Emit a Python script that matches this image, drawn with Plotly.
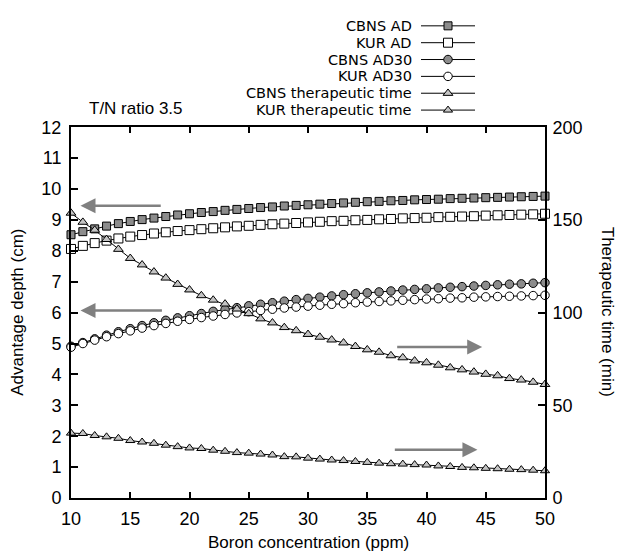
import plotly.graph_objects as go

# ---------------- data ----------------
boron_ppm = list(range(10, 51))

cbns_ad = [8.52, 8.62, 8.71, 8.80, 8.88, 8.95, 9.01, 9.06, 9.11, 9.16,
           9.20, 9.24, 9.27, 9.31, 9.34, 9.37, 9.40, 9.42, 9.45, 9.47,
           9.49, 9.51, 9.53, 9.55, 9.57, 9.59, 9.60, 9.62, 9.63, 9.65,
           9.66, 9.67, 9.69, 9.70, 9.71, 9.72, 9.73, 9.74, 9.75, 9.76, 9.77]
kur_ad = [8.06, 8.16, 8.25, 8.33, 8.40, 8.46, 8.51, 8.56, 8.60, 8.64,
          8.67, 8.70, 8.73, 8.76, 8.79, 8.81, 8.84, 8.86, 8.88, 8.90,
          8.92, 8.94, 8.96, 8.97, 8.99, 9.00, 9.02, 9.03, 9.05, 9.06,
          9.07, 9.09, 9.10, 9.11, 9.12, 9.14, 9.15, 9.16, 9.17, 9.18, 9.20]
cbns_ad30 = [4.91, 5.03, 5.15, 5.27, 5.38, 5.48, 5.58, 5.67, 5.75, 5.83,
             5.90, 5.97, 6.04, 6.10, 6.16, 6.22, 6.27, 6.32, 6.37, 6.42,
             6.46, 6.50, 6.54, 6.58, 6.61, 6.64, 6.67, 6.70, 6.73, 6.75,
             6.77, 6.80, 6.82, 6.84, 6.86, 6.88, 6.90, 6.92, 6.93, 6.95, 6.97]
kur_ad30 = [4.88, 5.00, 5.11, 5.22, 5.32, 5.41, 5.50, 5.58, 5.65, 5.72,
            5.78, 5.84, 5.89, 5.94, 5.99, 6.03, 6.07, 6.11, 6.15, 6.18,
            6.21, 6.24, 6.27, 6.29, 6.32, 6.34, 6.36, 6.38, 6.40, 6.42,
            6.44, 6.45, 6.47, 6.48, 6.50, 6.51, 6.52, 6.53, 6.54, 6.55, 6.56]
cbns_time = [153.7, 148.8, 144.5, 139.5, 134.2, 129.3, 125.8, 122.0, 118.7, 115.3,
             112.3, 109.2, 106.8, 104.7, 102.0, 99.5, 96.7, 94.5, 92.0, 90.3,
             88.3, 86.8, 85.3, 83.7, 81.8, 80.0, 78.7, 76.8, 75.7, 74.0,
             73.0, 71.7, 70.3, 69.2, 68.0, 66.8, 66.0, 64.5, 63.7, 62.5, 61.3]
kur_time = [35.0, 34.8, 33.7, 33.0, 32.2, 31.0, 30.2, 29.5, 28.5, 27.7,
            27.0, 26.7, 25.8, 25.2, 24.5, 24.2, 23.7, 23.2, 22.3, 22.2,
            21.5, 21.0, 20.5, 20.2, 19.7, 19.2, 18.8, 18.5, 18.3, 18.0,
            17.8, 17.3, 17.0, 16.5, 16.3, 16.0, 15.8, 15.5, 15.3, 15.0, 14.7]

x_ticks = [10, 15, 20, 25, 30, 35, 40, 45, 50]
left_ticks = list(range(0, 13))
right_ticks = [0, 50, 100, 150, 200]

series_names = ["CBNS AD", "KUR AD", "CBNS AD30", "KUR AD30",
                "CBNS therapeutic time", "KUR therapeutic time"]

# ---------------- styles ----------------
FONT = "Liberation Sans, Arial, Helvetica, sans-serif"
LEG_FONT = "DejaVu Sans, Liberation Sans, sans-serif"
styles = [
    dict(symbol="square", size=8, color="#8c8c8c", axis="y"),
    dict(symbol="square", size=9, color="white", axis="y"),
    dict(symbol="circle", size=8.5, color="#8c8c8c", axis="y"),
    dict(symbol="circle", size=8.5, color="white", axis="y"),
    dict(symbol="triangle-up", size=8.5, color="#c4c4c4", axis="y2"),
    dict(symbol="triangle-up", size=8, color="#c4c4c4", axis="y2"),
]
series_values = [cbns_ad, kur_ad, cbns_ad30, kur_ad30, cbns_time, kur_time]

fig = go.Figure()
for name, vals, st in zip(series_names, series_values, styles):
    fig.add_trace(go.Scatter(
        x=boron_ppm, y=vals, name=name, mode="lines+markers",
        xaxis="x", yaxis=st["axis"], showlegend=False, cliponaxis=False,
        line=dict(color="black", width=1),
        marker=dict(symbol=st["symbol"], size=st["size"], color=st["color"],
                    line=dict(color="black", width=1)),
    ))

# ---------------- custom legend (samples right of text) ----------------
# legend axis values are page pixels
leg_rows = [16, 33.2, 50.4, 67.6, 84.8, 102]
leg_text_right = 413
leg_line = [421, 475]
leg_mark = 448
for name, st, ry in zip(series_names, styles, leg_rows):
    fig.add_trace(go.Scatter(x=leg_line, y=[ry, ry], mode="lines", xaxis="x3", yaxis="y3",
                             showlegend=False, hoverinfo="skip",
                             line=dict(color="black", width=1)))
    fig.add_trace(go.Scatter(x=[leg_mark], y=[ry], mode="markers", xaxis="x3", yaxis="y3",
                             showlegend=False, hoverinfo="skip",
                             marker=dict(symbol=st["symbol"], size=st["size"], color=st["color"],
                                         line=dict(color="black", width=1))))

annotations = []
for name, ry in zip(series_names, leg_rows):
    annotations.append(dict(x=leg_text_right, y=ry, xref="x3", yref="y3", text=name,
                            showarrow=False, xanchor="right", yanchor="middle",
                            borderpad=0,
                            font=dict(family=LEG_FONT, size=14.5, color="black")))

annotations.append(dict(x=87, y=100, xref="x3", yref="y3", text="T/N ratio 3.5",
                        showarrow=False, xanchor="left", yanchor="middle",
                        font=dict(family=FONT, size=17, color="black")))

# direction arrows
arrow_specs = [
    (10.8, 9.46, 17.7, 9.46),
    (10.8, 6.07, 17.8, 6.07),
    (44.7, 4.89, 37.4, 4.89),
    (44.3, 1.56, 37.2, 1.56),
]
for hx, hy, tx, ty in arrow_specs:
    annotations.append(dict(x=hx, y=hy, ax=tx, ay=ty, xref="x", yref="y",
                            axref="x", ayref="y", text="", showarrow=True,
                            arrowhead=2, arrowsize=1.2, arrowwidth=2.5,
                            arrowcolor="#808080"))

# axis titles
annotations.append(dict(x=0.5, y=-0.0918, xref="paper", yref="paper",
                        text="Boron concentration (ppm)", showarrow=False,
                        xanchor="center", yanchor="middle",
                        font=dict(family=FONT, size=17, color="black")))
annotations.append(dict(x=-0.112, y=0.3878, xref="paper", yref="paper",
                        text="Advantage depth (cm)", showarrow=False, textangle=-90,
                        xanchor="center", yanchor="middle",
                        font=dict(family=FONT, size=17, color="black")))
annotations.append(dict(x=1.131, y=0.3878, xref="paper", yref="paper",
                        text="Therapeutic time (min)", showarrow=False, textangle=90,
                        xanchor="center", yanchor="middle",
                        font=dict(family=FONT, size=17, color="black")))

tickfont = dict(family=FONT, size=18, color="black")
main_top = (490 - 111.5) / 490

fig.update_layout(
    width=623, height=546,
    margin=dict(l=63, r=86, t=0, b=56),
    paper_bgcolor="white", plot_bgcolor="white",
    font=dict(family=FONT, color="black"),
    annotations=annotations,
    xaxis=dict(range=[10, 50], tickvals=x_ticks, ticks="inside", ticklen=6,
               tickwidth=1.5, tickcolor="black", showline=True, linecolor="black",
               linewidth=2, mirror="ticks", showgrid=False, zeroline=False,
               tickfont=tickfont, anchor="y", domain=[0, 1], ticklabelstandoff=3),
    yaxis=dict(range=[0, 12], tickvals=left_ticks, ticks="inside", ticklen=7,
               tickwidth=1.5, tickcolor="black", showline=True, linecolor="black",
               linewidth=2, showgrid=False, zeroline=False, tickfont=tickfont,
               domain=[0, main_top], anchor="x", ticklabelstandoff=4),
    yaxis2=dict(range=[0, 200], tickvals=right_ticks, ticks="inside", ticklen=7,
                tickwidth=1.5, tickcolor="black", showline=True, linecolor="black",
                linewidth=2, showgrid=False, zeroline=False, tickfont=tickfont,
                overlaying="y", side="right", anchor="x", ticklabelstandoff=2),
    xaxis3=dict(range=[71, 545], domain=[0, 1], anchor="y3", visible=False,
                fixedrange=True),
    yaxis3=dict(range=[119.5, 8], domain=[main_top, 1], anchor="x3", visible=False,
                fixedrange=True),
)

fig.write_html("out.html")
